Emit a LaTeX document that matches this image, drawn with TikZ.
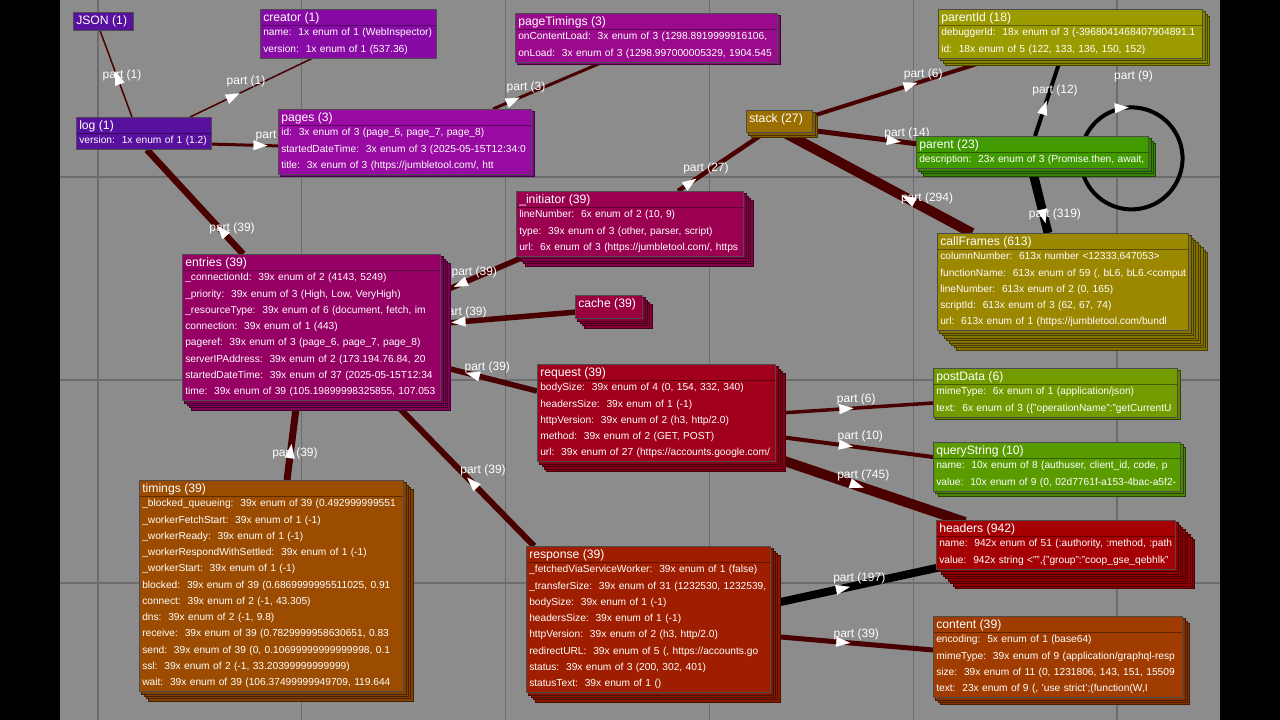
\documentclass[tikz,border=0pt]{standalone}
\usepackage{fontspec}
\setmainfont{Liberation Sans}
\usetikzlibrary{arrows.meta, decorations.markings}

\definecolor{canvas}{RGB}{140,140,140}
\definecolor{gridgray}{RGB}{108,108,108}
\definecolor{linkred}{RGB}{72,0,0}
\definecolor{cJson}{RGB}{88,16,158}
\definecolor{cCreator}{RGB}{136,10,165}
\definecolor{cPages}{RGB}{152,10,162}
\definecolor{cPageTim}{RGB}{155,10,140}
\definecolor{cInitiator}{RGB}{155,0,80}
\definecolor{cEntries}{RGB}{150,0,100}
\definecolor{cCache}{RGB}{155,0,62}
\definecolor{cRequest}{RGB}{160,0,26}
\definecolor{cHeaders}{RGB}{166,0,4}
\definecolor{cResponse}{RGB}{160,30,0}
\definecolor{cContent}{RGB}{160,60,0}
\definecolor{cTimings}{RGB}{155,76,0}
\definecolor{cStack}{RGB}{155,110,0}
\definecolor{cFrames}{RGB}{155,135,0}
\definecolor{cParentId}{RGB}{155,155,0}
\definecolor{cPost}{RGB}{115,155,0}
\definecolor{cQuery}{RGB}{90,155,0}
\definecolor{cParent}{RGB}{65,155,0}

\tikzstyle{link}=[draw=linkred]
\tikzset{wtip/.tip={Triangle[length=14pt, width=10pt, line width=0.2pt, fill=white, color=white]}}

\pgfdeclarelayer{grid}
\pgfdeclarelayer{links}
\pgfdeclarelayer{stacks}
\pgfsetlayers{grid,links,stacks,main}

\newcommand{\ttl}[1]{{\fontsize{12.2}{14}\selectfont\rule{0pt}{12pt}#1}\vspace{-1.7pt}}
\newcommand{\fld}[1]{\\\mbox{#1}}

\begin{document}
\begin{tikzpicture}[x=1pt, y=-1pt,
  ent/.style={draw=black!70, line width=0.5pt, anchor=north west, inner xsep=3pt,
              inner ysep=0pt, align=left, text=white, text height=12pt,
              font=\fontsize{10.2}{16.25}\selectfont\frenchspacing},
  wd/.code={\pgfmathsetmacro\bxw{#1-6}\edef\bxtmp{\noexpand\pgfkeysalso{text width=\bxw pt}}\bxtmp},
  boxh/.code={\pgfmathsetmacro\bxd{#1-12}\edef\bxtmp{\noexpand\pgfkeysalso{text depth=\bxd pt}}\bxtmp},
  nrows/.code={\pgfmathsetmacro\bxh{16+16.25*#1}\edef\bxtmp{\noexpand\pgfkeysalso{boxh=\bxh, titled}}\bxtmp},
  titled/.style={path picture={\draw[black, draw opacity=0.4, line width=0.6pt]
      ([yshift=-16pt]path picture bounding box.north west) -- ([yshift=-16pt]path picture bounding box.north east);}},
  layercopy/.style={line width=0.5pt},
  gridln/.style={draw=gridgray, line width=1.2pt},
  lbl/.style={text=white, inner sep=0pt, font=\fontsize{12}{14}\selectfont},
  fwd/.style={postaction={decorate}, decoration={markings, mark=at position #1 with {\arrow{wtip}}}},
  bwd/.style={postaction={decorate}, decoration={markings, mark=at position #1 with {\arrowreversed{wtip}}}}
]
\useasboundingbox (0,0) rectangle (1280,720);

% background and grid
\begin{pgfonlayer}{grid}
\fill[black] (0,0) rectangle (1280,720);
\fill[canvas] (60,0) rectangle (1220,720);
\foreach \i in {0,...,5} \draw[gridln] (98+203.8*\i,0) -- (98+203.8*\i,720);
\foreach \j in {0,...,2} \draw[gridln] (60,177+203*\j) -- (1220,177+203*\j);
\end{pgfonlayer}

% entities
\node[ent, fill=cJson, wd=60, boxh=18] (json) at (73,12) {\ttl{JSON (1)}};
\node[ent, fill=cCreator, wd=176, nrows=2] (creator) at (260,9) {\ttl{creator (1)}
  \fld{name:~ 1x enum of 1 (WebInspector)}
  \fld{version:~ 1x enum of 1 (537.36)}};
\node[ent, fill=cJson, wd=135, nrows=1] (log) at (76,117) {\ttl{log (1)}
  \fld{version:~ 1x enum of 1 (1.2)}};
\node[ent, fill=cPages, wd=253, nrows=3] (pages) at (278,109) {\ttl{pages (3)}
  \fld{id:~ 3x enum of 3 (page\_6, page\_7, page\_8)}
  \fld{startedDateTime:~ 3x enum of 3 (2025-05-15T12:34:0}
  \fld{title:~ 3x enum of 3 (https://jumbletool.com/, htt}};
\node[ent, fill=cPageTim, wd=262, nrows=2] (pagetimings) at (515,13) {\ttl{pageTimings (3)}
  \fld{onContentLoad:~ 3x enum of 3 (1298.8919999916106,}
  \fld{onLoad:~ 3x enum of 3 (1298.997000005329, 1904.545}};
\node[ent, fill=cParentId, wd=264, nrows=2] (parentid) at (938,9) {\ttl{parentId (18)}
  \fld{debuggerId:~ 18x enum of 3 (-3968041468407904891.1}
  \fld{id:~ 18x enum of 5 (122, 133, 136, 150, 152)}};
\node[ent, fill=cStack, wd=66, boxh=22] (stack) at (746,110) {\ttl{stack (27)}};
\node[ent, fill=cParent, wd=232, nrows=1] (parent) at (916,136) {\ttl{parent (23)}
  \fld{description:~ 23x enum of 3 (Promise.then, await,}};
\node[ent, fill=cFrames, wd=251, nrows=5] (callframes) at (937,233) {\ttl{callFrames (613)}
  \fld{columnNumber:~ 613x number <12333,647053>}
  \fld{functionName:~ 613x enum of 59 (, bL6, bL6.<comput}
  \fld{lineNumber:~ 613x enum of 2 (0, 165)}
  \fld{scriptId:~ 613x enum of 3 (62, 67, 74)}
  \fld{url:~ 613x enum of 1 (https://jumbletool.com/bundl}};
\node[ent, fill=cInitiator, wd=227, nrows=3] (initiator) at (516,191) {\ttl{\_initiator (39)}
  \fld{lineNumber:~ 6x enum of 2 (10, 9)}
  \fld{type:~ 39x enum of 3 (other, parser, script)}
  \fld{url:~ 6x enum of 3 (https://jumbletool.com/, https}};
\node[ent, fill=cEntries, wd=258, nrows=8] (entries) at (182,254) {\ttl{entries (39)}
  \fld{\_connectionId:~ 39x enum of 2 (4143, 5249)}
  \fld{\_priority:~ 39x enum of 3 (High, Low, VeryHigh)}
  \fld{\_resourceType:~ 39x enum of 6 (document, fetch, im}
  \fld{connection:~ 39x enum of 1 (443)}
  \fld{pageref:~ 39x enum of 3 (page\_6, page\_7, page\_8)}
  \fld{serverIPAddress:~ 39x enum of 2 (173.194.76.84, 20}
  \fld{startedDateTime:~ 39x enum of 37 (2025-05-15T12:34}
  \fld{time:~ 39x enum of 39 (105.19899998325855, 107.053}};
\node[ent, fill=cCache, wd=67, boxh=23] (cache) at (575,295) {\ttl{cache (39)}};
\node[ent, fill=cRequest, wd=238, nrows=5] (request) at (537,364) {\ttl{request (39)}
  \fld{bodySize:~ 39x enum of 4 (0, 154, 332, 340)}
  \fld{headersSize:~ 39x enum of 1 (-1)}
  \fld{httpVersion:~ 39x enum of 2 (h3, http/2.0)}
  \fld{method:~ 39x enum of 2 (GET, POST)}
  \fld{url:~ 39x enum of 27 (https://accounts.google.com/}};
\node[ent, fill=cPost, wd=244, nrows=2] (postdata) at (933,368) {\ttl{postData (6)}
  \fld{mimeType:~ 6x enum of 1 (application/json)}
  \fld{text:~ 6x enum of 3 (\{"operationName":"getCurrentU}};
\node[ent, fill=cQuery, wd=247, nrows=2] (querystring) at (933,442) {\ttl{queryString (10)}
  \fld{name:~ 10x enum of 8 (authuser, client\_id, code, p}
  \fld{value:~ 10x enum of 9 (0, 02d7761f-a153-4bac-a5f2-}};
\node[ent, fill=cHeaders, wd=239, nrows=2] (headers) at (936,520) {\ttl{headers (942)}
  \fld{name:~ 942x enum of 51 (:authority, :method, :path}
  \fld{value:~ 942x string <"",\{"group":"coop\_gse\_qebhlk"}};
\node[ent, fill=cTimings, wd=264, nrows=12] (timings) at (139,480) {\ttl{timings (39)}
  \fld{\_blocked\_queueing:~ 39x enum of 39 (0.492999999551}
  \fld{\_workerFetchStart:~ 39x enum of 1 (-1)}
  \fld{\_workerReady:~ 39x enum of 1 (-1)}
  \fld{\_workerRespondWithSettled:~ 39x enum of 1 (-1)}
  \fld{\_workerStart:~ 39x enum of 1 (-1)}
  \fld{blocked:~ 39x enum of 39 (0.6869999995511025, 0.91}
  \fld{connect:~ 39x enum of 2 (-1, 43.305)}
  \fld{dns:~ 39x enum of 2 (-1, 9.8)}
  \fld{receive:~ 39x enum of 39 (0.7829999958630651, 0.83}
  \fld{send:~ 39x enum of 39 (0, 0.10699999999999998, 0.1}
  \fld{ssl:~ 39x enum of 2 (-1, 33.20399999999999)}
  \fld{wait:~ 39x enum of 39 (106.37499999949709, 119.644}};
\node[ent, fill=cResponse, wd=244, nrows=8] (response) at (526,546) {\ttl{response (39)}
  \fld{\_fetchedViaServiceWorker:~ 39x enum of 1 (false)}
  \fld{\_transferSize:~ 39x enum of 31 (1232530, 1232539,}
  \fld{bodySize:~ 39x enum of 1 (-1)}
  \fld{headersSize:~ 39x enum of 1 (-1)}
  \fld{httpVersion:~ 39x enum of 2 (h3, http/2.0)}
  \fld{redirectURL:~ 39x enum of 5 (, https://accounts.go}
  \fld{status:~ 39x enum of 3 (200, 302, 401)}
  \fld{statusText:~ 39x enum of 1 ()}};
\node[ent, fill=cContent, wd=249, nrows=4] (content) at (933,616) {\ttl{content (39)}
  \fld{encoding:~ 5x enum of 1 (base64)}
  \fld{mimeType:~ 39x enum of 9 (application/graphql-resp}
  \fld{size:~ 39x enum of 11 (0, 1231806, 143, 151, 15509}
  \fld{text:~ 23x enum of 9 (, \symbol{39}use strict\symbol{39};(function(W,I}};

% stacked copies behind the multi-valued entities
\begin{pgfonlayer}{stacks}
\foreach \n/\k/\col in {pages/1/cPages, pagetimings/1/cPageTim, parentid/3/cParentId,
    stack/2/cStack, parent/3/cParent, callframes/8/cFrames, initiator/4/cInitiator,
    entries/4/cEntries, cache/4/cCache, request/4/cRequest, postdata/1/cPost,
    querystring/2/cQuery, headers/8/cHeaders, timings/4/cTimings,
    response/4/cResponse, content/3/cContent}
  \foreach \i in {\k,...,1}
    \draw[layercopy, draw=\col!45!black, fill=\col!85!black] ([shift={(2.4*\i,2.4*\i)}]\n.north west)
      rectangle ([shift={(2.4*\i,2.4*\i)}]\n.south east);
\end{pgfonlayer}

% parts
\coordinate (loopc) at ([shift={(-17,6)}]parent.east);
\begin{pgfonlayer}{links}
\draw[link, line width=1.5pt, fwd=49pt] ([shift={(56,0)}]log.north west)
  -- node[lbl, pos=0.462, xshift=4.8pt, yshift=1.8pt] {part (1)} ([shift={(27,0)}]json.south west);
\draw[link, line width=1.5pt, fwd=55pt] ([shift={(114,0)}]log.north west)
  -- node[lbl, pos=0.483, xshift=-3.4pt, yshift=7pt] {part (1)} ([shift={(53,0)}]creator.south west);
\draw[link, line width=3pt, fwd=59pt] ([shift={(-3,27)}]log.north east)
  -- node[lbl, pos=0.918, yshift=10.5pt] {part (3)} ([shift={(3,37)}]pages.north west);
\draw[link, line width=3pt, fwd=29pt] ([shift={(215,0)}]pages.north west)
  -- node[lbl, pos=0.326, xshift=-2.8pt, yshift=6.5pt] {part (3)} ([shift={(88,0)}]pagetimings.south west);
\draw[link, line width=6.5pt, bwd=103pt] ([shift={(71,0)}]log.south west)
  -- node[lbl, pos=0.813, xshift=7pt, yshift=6.4pt] {part (39)} ([shift={(61,0)}]entries.north west);
\draw[link, line width=5.5pt, bwd=8pt] ([shift={(6,36)}]entries.north east)
  -- node[lbl, pos=0.359, xshift=-2.2pt, yshift=5.1pt] {part (39)} ([shift={(14,-2)}]initiator.south west);
\draw[link, line width=5.5pt, bwd=5pt] ([shift={(6,69)}]entries.north east)
  -- node[lbl, pos=0.134, yshift=9pt] {part (39)} ([shift={(2,17)}]cache.north west);
\draw[link, line width=5.5pt, bwd=20pt] ([shift={(6,114)}]entries.north east)
  -- node[lbl, pos=0.421, xshift=2.7pt, yshift=10.7pt] {part (39)} ([shift={(0,27)}]request.north west);
\draw[link, line width=7pt, bwd=0.55] ([shift={(115,0)}]entries.south west)
  -- node[lbl, pos=0.66, xshift=4.6pt] {part (39)} ([shift={(148,0)}]timings.north west);
\draw[link, line width=6pt, bwd=0.53] ([shift={(210,0)}]entries.south west)
  -- node[lbl, pos=0.558, xshift=11.8pt, yshift=11.5pt] {part (39)} ([shift={(8,0)}]response.north west);
\draw[link, line width=4.5pt, fwd=22pt] ([shift={(162,0)}]initiator.north west)
  -- node[lbl, pos=0.343, xshift=-1.9pt, yshift=2.8pt] {part (27)} ([shift={(19,0)}]stack.south west);
\draw[link, line width=4pt, fwd=110pt] ([shift={(0,6)}]stack.north east)
  -- node[lbl, pos=0.642, xshift=-2pt, yshift=6pt] {part (6)} ([shift={(50,2.5)}]parentid.south west);
\draw[link, line width=5pt, fwd=89pt] ([shift={(0,-2)}]stack.south east)
  -- node[lbl, pos=0.885, xshift=1.2pt, yshift=9.4pt] {part (14)} ([shift={(2,8)}]parent.north west);
\draw[link, line width=10pt, bwd=134pt] ([shift={(38,0)}]stack.south west)
  -- node[lbl, pos=0.737, xshift=4.5pt, yshift=8.4pt] {part (294)} ([shift={(35,0)}]callframes.north west);
\draw[link, draw=black, line width=4pt, fwd=37pt] ([shift={(119,0)}]parent.north west)
  -- node[lbl, pos=0.624, xshift=4.4pt, yshift=-1.4pt] {part (12)} ([shift={(122,2.5)}]parentid.south west);
\draw[link, draw=black, line width=9pt, fwd=56pt] ([shift={(116,0)}]parent.south west)
  -- node[lbl, pos=0.749, xshift=11pt, yshift=2.7pt] {part (319)} ([shift={(111,0)}]callframes.north west);
\draw[link, draw=black, line width=4pt, fwd=15pt] ([shift={(-17.4,-47.9)}]loopc)
  arc[start angle=-110, end angle=250, radius=51]
  ([shift={(2,-82)}]loopc) node[lbl] {part (9)};
\draw[link, line width=3.5pt, fwd=73pt] ([shift={(5,49)}]request.north east)
  -- node[lbl, pos=0.497, yshift=9pt] {part (6)} ([shift={(0,35)}]postdata.north west);
\draw[link, line width=4pt, fwd=73pt] ([shift={(5,73)}]request.north east)
  -- node[lbl, pos=0.523, yshift=11.5pt] {part (10)} ([shift={(0,15)}]querystring.north west);
\draw[link, line width=10pt, fwd=0.45] ([shift={(5,-2)}]request.south east)
  -- node[lbl, pos=0.428, xshift=3.8pt, yshift=11pt] {part (745)} ([shift={(29,2)}]headers.north west);
\draw[link, draw=black, line width=8pt, fwd=71pt] ([shift={(10,56)}]response.north east)
  -- node[lbl, pos=0.499, xshift=-1.3pt, yshift=6.3pt] {part (197)} ([shift={(5,-2)}]headers.south west);
\draw[link, line width=5pt, fwd=70pt] ([shift={(10,91)}]response.north east)
  -- node[lbl, pos=0.497, yshift=9.5pt] {part (39)} ([shift={(0,34)}]content.north west);
\end{pgfonlayer}
\end{tikzpicture}
\end{document}
